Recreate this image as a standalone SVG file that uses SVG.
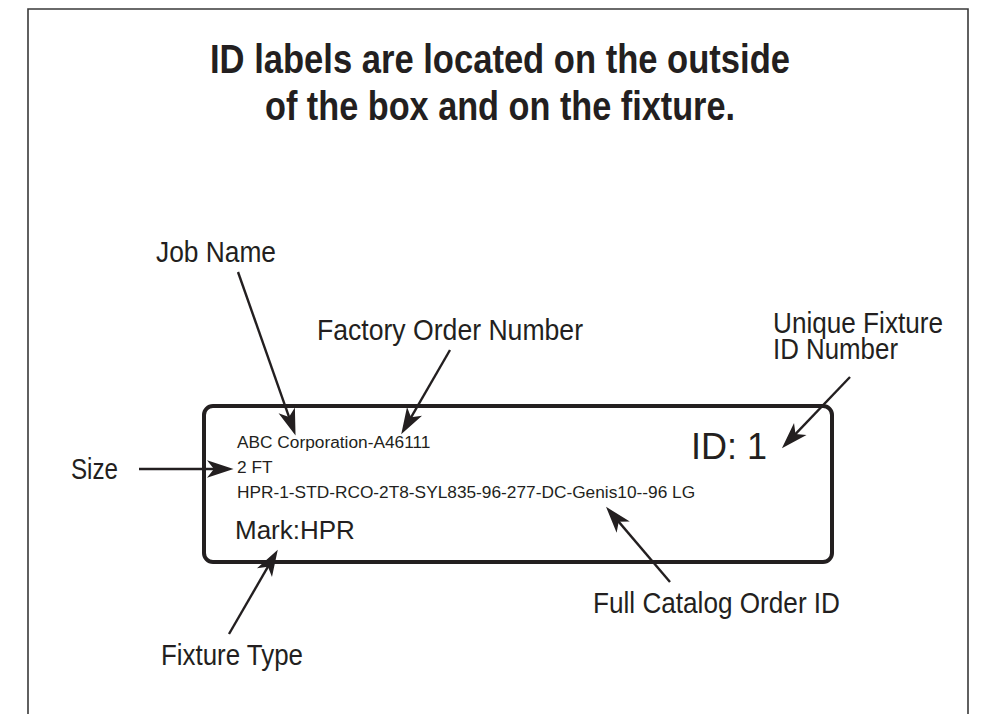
<svg xmlns="http://www.w3.org/2000/svg" width="983" height="714" viewBox="0 0 983 714">
<style>
.frame{fill:none;stroke:#3a3a3a;stroke-width:1.6}
.title{font-family:"Liberation Sans Narrow","Liberation Sans",Arial,sans-serif;font-weight:bold;font-size:40px;fill:#231f20}
.lbl{font-family:"Liberation Sans Narrow","Liberation Sans",Arial,sans-serif;font-size:30px;fill:#231f20}
.tag{font-family:"Liberation Sans",Arial,sans-serif;fill:#231f20}
.box{fill:#fff;stroke:#231f20;stroke-width:4}
.conn line{stroke:#231f20;stroke-width:2.4;marker-end:url(#ah)}
</style>
<defs>
<marker id="ah" markerUnits="userSpaceOnUse" markerWidth="30" markerHeight="30" viewBox="-14 -10 26 20" refX="0" refY="0" orient="auto">
<path d="M10,0 L-13,-7.5 L-7,0 L-13,7.5 Z" fill="#231f20"/>
</marker>
</defs>
<rect width="983" height="714" fill="#fff"/>
<path class="frame" d="M28,714 V9 H968 V714"/>
<g id="title">
<text class="title" x="500" y="73" text-anchor="middle" textLength="580" lengthAdjust="spacingAndGlyphs">ID labels are located on the outside</text>
<text class="title" x="500" y="120" text-anchor="middle" textLength="470" lengthAdjust="spacingAndGlyphs">of the box and on the fixture.</text>
</g>
<g id="label-box">
<rect class="box" x="204" y="406" width="628" height="156" rx="9"/>
<text class="tag" x="237" y="448" font-size="17.3">ABC Corporation-A46111</text>
<text class="tag" x="237" y="473" font-size="17.3">2 FT</text>
<text class="tag" x="237" y="498" font-size="17.3">HPR-1-STD-RCO-2T8-SYL835-96-277-DC-Genis10--96 LG</text>
<text class="tag" x="235" y="539" font-size="26">Mark:HPR</text>
<text class="tag" x="691" y="459" font-size="36">ID: 1</text>
</g>
<g id="job-name"><text class="lbl" x="156" y="262" textLength="120" lengthAdjust="spacingAndGlyphs">Job Name</text></g>
<g id="factory-order"><text class="lbl" x="317" y="340" textLength="266" lengthAdjust="spacingAndGlyphs">Factory Order Number</text></g>
<g id="unique-id">
<text class="lbl" x="773" y="333" textLength="170" lengthAdjust="spacingAndGlyphs">Unique Fixture</text>
<text class="lbl" x="773" y="359" textLength="125" lengthAdjust="spacingAndGlyphs">ID Number</text>
</g>
<g id="size"><text class="lbl" x="71" y="479" textLength="47" lengthAdjust="spacingAndGlyphs">Size</text></g>
<g id="fixture-type"><text class="lbl" x="161" y="665" textLength="142" lengthAdjust="spacingAndGlyphs">Fixture Type</text></g>
<g id="full-catalog"><text class="lbl" x="593" y="613" textLength="247" lengthAdjust="spacingAndGlyphs">Full Catalog Order ID</text></g>
<g id="connectors" class="conn">
<line x1="238" y1="272" x2="291.7" y2="424.6"/>
<line x1="450" y1="350" x2="407" y2="424.3"/>
<line x1="139" y1="469" x2="222" y2="469"/>
<line x1="850" y1="377" x2="789.9" y2="439.8"/>
<line x1="229" y1="634" x2="272" y2="559.7"/>
<line x1="670" y1="582" x2="613.5" y2="515.6"/>
</g>
</svg>
